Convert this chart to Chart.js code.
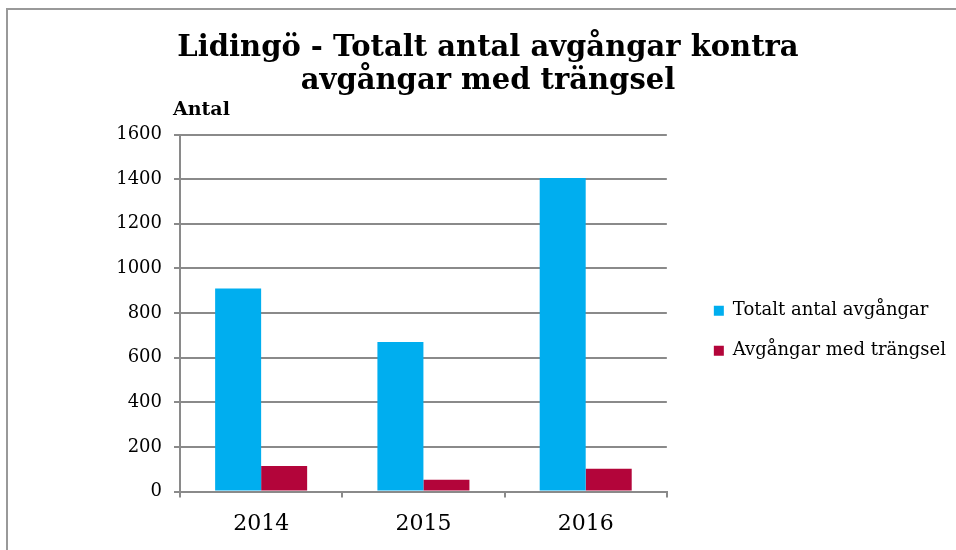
<!DOCTYPE html>
<html><head><meta charset="utf-8">
<script src="https://cdn.jsdelivr.net/npm/chart.js@4"></script>
<style>
html,body{margin:0;padding:0;background:#fff;}
#wrap{position:relative;width:956px;height:550px;overflow:hidden;}
#frame{position:absolute;left:6px;top:8px;width:980px;height:580px;border-top:2px solid #999;border-left:2px solid #999;}
canvas{position:absolute;left:0;top:0;}
</style></head>
<body><div id="wrap"><div id="frame"></div><canvas id="c" width="956" height="550"></canvas></div>
<script>
const categories = ['2014', '2015', '2016'];
const totalDepartures = [910, 670, 1405];
const crowdedDepartures = [115, 53, 102];
const seriesNames = ['Totalt antal avgångar', 'Avgångar med trängsel'];
const titleLines = ['Lidingö - Totalt antal avgångar kontra', 'avgångar med trängsel'];
const yAxisLabel = 'Antal';

const serif = "'DejaVu Serif', serif";
const gridColor = '#8a8a8a';

const axisLabelPlugin = {
  id: 'axisLabel',
  afterDraw(chart) {
    const {ctx, chartArea} = chart;
    ctx.save();
    ctx.font = "bold 19px " + serif;
    ctx.fillStyle = '#000';
    ctx.textBaseline = 'alphabetic';
    ctx.textAlign = 'left';
    ctx.fillText(yAxisLabel, chartArea.left - 7, chartArea.top - 20);
    ctx.restore();
  }
};

new Chart(document.getElementById('c'), {
  type: 'bar',
  data: {
    labels: categories,
    datasets: [
      {label: seriesNames[0], data: totalDepartures, backgroundColor: '#00AEEF', barPercentage: 1, categoryPercentage: 0.567},
      {label: seriesNames[1], data: crowdedDepartures, backgroundColor: '#B3053A', barPercentage: 1, categoryPercentage: 0.567}
    ]
  },
  options: {
    responsive: false,
    animation: false,
    layout: {padding: {left: 20, right: 0, top: 0, bottom: 0}},
    plugins: {
      title: {
        display: true,
        text: titleLines,
        color: '#000',
        font: {family: serif, size: 29, weight: 'bold', lineHeight: 1.13},
        padding: {top: 32, bottom: 37}
      },
      legend: {
        position: 'right',
        maxWidth: 320,
        title: {display: true, text: ' ', font: {size: 12, lineHeight: 1.2}, padding: {top: 97, bottom: 0}},
        labels: {
          color: '#000',
          font: {family: serif, size: 18},
          boxWidth: 10, boxHeight: 10,
          padding: 22
        }
      },
      tooltip: {enabled: false}
    },
    scales: {
      x: {
        grid: {offset: true, drawOnChartArea: false, color: gridColor, lineWidth: 2, tickLength: 6},
        border: {color: gridColor, width: 2},
        ticks: {color: '#000', font: {family: serif, size: 22}, padding: 13}
      },
      y: {
        min: 0, max: 1600,
        ticks: {stepSize: 200, color: '#000', font: {family: serif, size: 18}, padding: 12,
                callback: v => String(v)},
        grid: {color: gridColor, lineWidth: 2, tickLength: 6},
        border: {color: gridColor, width: 2},
        afterFit(s) { s.width = 160; }
      },
      y2: {
        position: 'right',
        display: true,
        grid: {display: false, drawTicks: false},
        border: {display: false},
        ticks: {display: false},
        afterFit(s) { s.width = 25; }
      }
    }
  },
  plugins: [axisLabelPlugin]
});
</script></body></html>
